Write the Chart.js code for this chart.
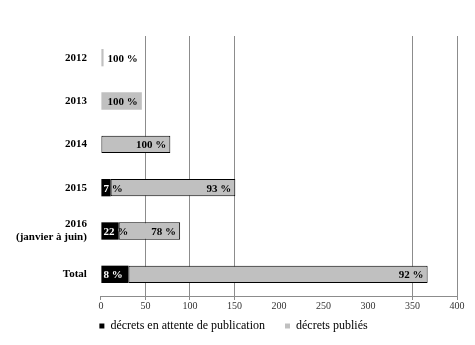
<!DOCTYPE html>
<html>
<head>
<meta charset="utf-8">
<script src="https://cdn.jsdelivr.net/npm/chart.js@4/dist/chart.umd.min.js"></script>
<style>
  html, body { margin: 0; padding: 0; background: #fff; }
  #wrap { width: 475px; height: 345px; }
</style>
</head>
<body>
<div id="wrap"><canvas id="myChart" width="475" height="345"></canvas></div>
<script>
const categories = ['2012', '2013', '2014', '2015', ['2016', '(janvier à juin)'], 'Total'];
const pending = [0, 0, 0, 11, 20, 31];
const published = [3, 46, 78, 140, 69, 336];
const pendingLabels = ['', '', '', '7 %', '22 %', '8 %'];
const publishedLabels = ['100 %', '100 %', '100 %', '93 %', '78 %', '92 %'];
const xTicks = [0, 50, 100, 150, 200, 250, 300, 350, 400];
const hiddenGrid = [0, 200, 250, 300];

const serif = '"Liberation Serif", "Times New Roman", serif';

// percent labels drawn on the bars
const barLabels = {
    id: 'barLabels',
    afterDatasetsDraw(chart) {
        const ctx = chart.ctx;
        const m0 = chart.getDatasetMeta(0);
        const m1 = chart.getDatasetMeta(1);
        ctx.save();
        ctx.font = 'bold 11px ' + serif;
        ctx.textBaseline = 'middle';
        categories.forEach(function(c, i) {
            const b0 = m0.data[i];
            const b1 = m1.data[i];
            if (pendingLabels[i]) {
                const tx = b0.base + 2;
                const top = b0.y - b0.height / 2;
                ctx.textAlign = 'left';
                ctx.fillStyle = '#000';
                ctx.fillText(pendingLabels[i], tx, b0.y + 1);
                // white where it sits on the black bar
                ctx.save();
                ctx.beginPath();
                ctx.rect(b0.base, top, b0.x - b0.base, b0.height);
                ctx.clip();
                ctx.fillStyle = '#fff';
                ctx.fillText(pendingLabels[i], tx, b0.y + 1);
                ctx.restore();
            }
            ctx.fillStyle = '#000';
            if (b1.x - b1.base < 40) {
                ctx.textAlign = 'left';
                ctx.fillText(publishedLabels[i], b1.x + 4, b1.y + 1);
            } else {
                ctx.textAlign = 'right';
                ctx.fillText(publishedLabels[i], b1.x - 4, b1.y + 1);
            }
        });
        ctx.restore();
    }
};

let ctx = document.getElementById('myChart').getContext('2d');
let myChart = new Chart(ctx, {
    type: 'bar',
    data: {
        labels: categories,
        datasets: [{
            label: 'décrets en attente de publication',
            data: pending,
            backgroundColor: '#000',
            borderColor: '#000',
            borderWidth: 0,
            borderSkipped: false
        }, {
            label: 'décrets publiés',
            data: published,
            backgroundColor: '#c0c0c0',
            borderColor: '#000',
            borderWidth: [0, 0, 1, 1, 1, 1],
            borderSkipped: false
        }]
    },
    options: {
        indexAxis: 'y',
        responsive: false,
        animation: false,
        barPercentage: 0.4,
        categoryPercentage: 1,
        layout: {
            padding: { left: 10, right: 18, top: 36, bottom: 3 }
        },
        scales: {
            x: {
                stacked: true,
                min: 0,
                max: 400,
                afterBuildTicks: function(axis) {
                    axis.ticks = xTicks.map(function(v) { return { value: v }; });
                },
                grid: {
                    color: function(c) {
                        return hiddenGrid.includes(c.tick.value) ? 'rgba(0,0,0,0)' : '#8c8c8c';
                    },
                    tickColor: function(c) {
                        return hiddenGrid.includes(c.tick.value) && c.tick.value !== 0 ? 'rgba(0,0,0,0)' : '#8c8c8c';
                    },
                    tickLength: 4
                },
                border: { color: '#8c8c8c' },
                ticks: {
                    color: '#333',
                    font: { family: serif, size: 10 },
                    padding: 0,
                    maxRotation: 0
                }
            },
            y: {
                stacked: true,
                grid: { display: false },
                border: { display: false },
                ticks: {
                    color: '#000',
                    font: { family: serif, size: 11, weight: 'bold' },
                    padding: 6
                }
            }
        },
        plugins: {
            legend: {
                position: 'bottom',
                labels: {
                    boxWidth: 5,
                    boxHeight: 5,
                    padding: 8,
                    color: '#000',
                    font: { family: serif, size: 12 },
                    generateLabels: function(chart) {
                        const items = Chart.defaults.plugins.legend.labels.generateLabels(chart);
                        // a little more room between the two entries
                        items[0].text = items[0].text + '    ';
                        return items;
                    }
                }
            },
            tooltip: { enabled: false }
        }
    },
    plugins: [barLabels]
});
</script>
</body>
</html>
